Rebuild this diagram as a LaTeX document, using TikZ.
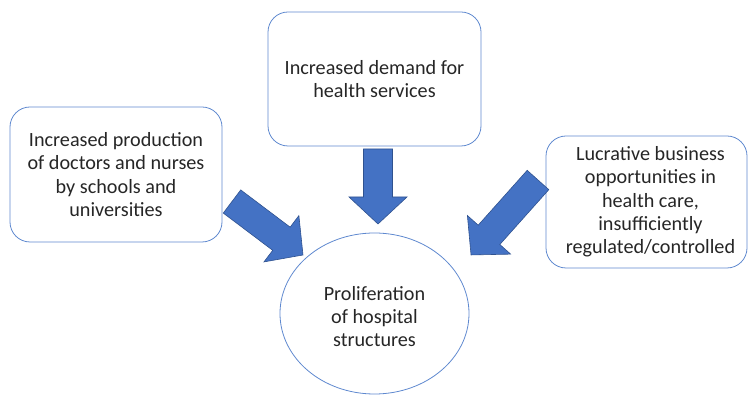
\documentclass[tikz,border=0pt]{standalone}
\usepackage{fontspec}
\setmainfont{Carlito}
\usetikzlibrary{calc,shapes.geometric}

\definecolor{boxline}{RGB}{95,137,207}
\definecolor{arrowfill}{RGB}{68,114,196}
\definecolor{arrowline}{RGB}{47,82,143}
\definecolor{txtgray}{RGB}{38,38,38}

\tikzset{
  cause/.style={draw=boxline, line width=0.8pt, rounded corners=20pt,
    align=center, text=txtgray, font=\fontsize{20.2}{23.3}\selectfont},
  effect/.style={ellipse, draw=boxline, line width=0.8pt, inner sep=0pt,
    align=center, text=txtgray, font=\fontsize{20.2}{23.3}\selectfont},
  blockarrow/.style={fill=arrowfill, draw=arrowline, line width=0.6pt}
}

% fat arrow from #1 to #2
\newcommand{\fatarrow}[2]{%
  \draw[blockarrow] let \p1=($(#2)-(#1)$), \n1={atan2(\y1,\x1)},
    \n2={veclen(\x1,\y1)} in [shift={(#1)}, rotate=\n1]
    (0,-14.5) -- (\n2-27,-14.5) -- (\n2-27,-29) -- (\n2,0)
    -- (\n2-27,29) -- (\n2-27,14.5) -- (0,14.5) -- cycle;}

\begin{document}
\begin{tikzpicture}[x=1pt, y=1pt]

    \useasboundingbox (0,0) rectangle (748,396);

    % Causes
    \node[cause, minimum width=213pt, minimum height=134pt] (demand) at (374.5,317)
        {Increased demand for\\health services};
    \node[cause, minimum width=212pt, minimum height=135pt] (production) at (116,221.5)
        {Increased production\\of doctors and nurses\\by schools and\\universities};
    \node[cause, minimum width=201pt, minimum height=132pt] (business) at (646.5,194) {};
    \node[text=txtgray, align=center, font=\fontsize{20.2}{23.3}\selectfont]
        (businesstext) at (650.5,194)
        {Lucrative business\\opportunities in\\health care,\\insufficiently\\regulated/controlled};

    % Effect
    \node[effect, minimum width=189pt, minimum height=161pt] (prolif) at (374.5,82.5) {};
    \node[text=txtgray, align=center, font=\fontsize{20.2}{23.3}\selectfont]
        (prolittext) at (374.5,79.5) {Proliferation\\of hospital\\structures};

    % Arrow ends
    \coordinate (dtail) at (378,247);
    \coordinate (dtip) at (378,172);
    \coordinate (ltail) at (232,194.5);
    \coordinate (ltip) at (303,141);
    \coordinate (rtail) at (538,216);
    \coordinate (rtip) at (471,141);

    % Arrows
    \fatarrow{dtail}{dtip}
    \fatarrow{ltail}{ltip}
    \fatarrow{rtail}{rtip}

\end{tikzpicture}
\end{document}
